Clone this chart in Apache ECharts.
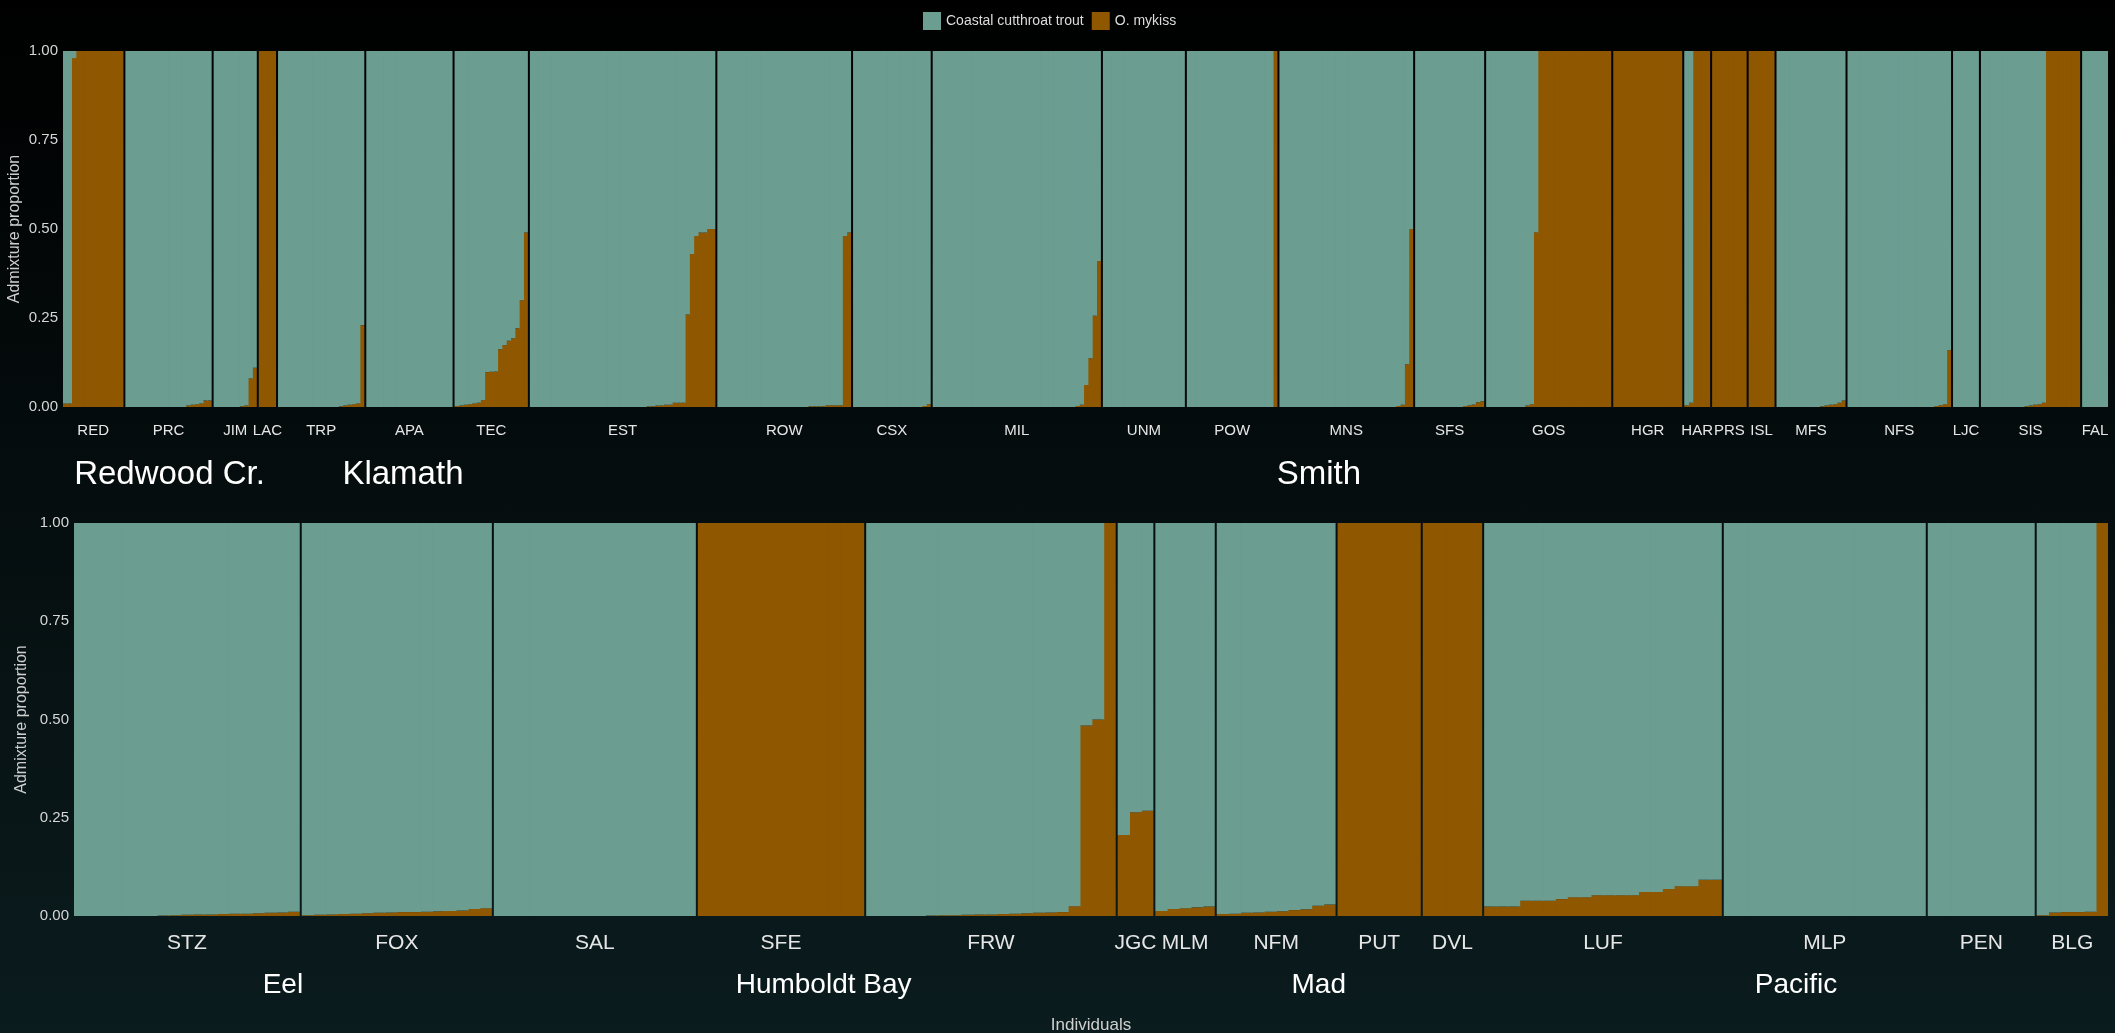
<!DOCTYPE html>
<html>
<head>
<meta charset="utf-8">
<script src="https://cdn.jsdelivr.net/npm/echarts@6/dist/echarts.min.js"></script>
<style>
  html, body { margin: 0; padding: 0; background: #000; }
  #chart { width: 2115px; height: 1033px; background: linear-gradient(#000000, #0b1c1e); }
</style>
</head>
<body>
<div id="chart"></div>
<script>
// brown (O. mykiss) share of each individual, as runs of [count, value], sorted as in the plot
const RED = [[2, 0.01], [1, 0.98], [11, 1]];
const PRC = [[14, 0], [1, 0.004], [1, 0.006], [1, 0.008], [1, 0.01], [2, 0.018]];
const JIM = [[6, 0], [1, 0.002], [1, 0.004], [1, 0.08], [1, 0.11]];
const LAC = [[4, 1]];
const TRP = [[14, 0], [1, 0.002], [1, 0.004], [1, 0.006], [1, 0.008], [1, 0.01], [1, 0.23]];
const APA = [[20, 0]];
const TEC = [[1, 0.003], [1, 0.004], [1, 0.006], [1, 0.008], [1, 0.01], [1, 0.012], [1, 0.02],
  [1, 0.098], [1, 0.099], [1, 0.1], [1, 0.162], [1, 0.174], [1, 0.186], [1, 0.193], [1, 0.221], [1, 0.3], [1, 0.49]];
const EST = [[27, 0], [2, 0.002], [2, 0.004], [2, 0.006], [3, 0.012], [1, 0.26], [1, 0.43], [1, 0.48], [2, 0.49], [2, 0.5]];
const ROW = [[21, 0], [4, 0.002], [4, 0.005], [1, 0.48], [1, 0.49]];
const CSX = [[16, 0], [1, 0.003], [1, 0.008]];
const MIL = [[33, 0], [1, 0.003], [1, 0.006], [1, 0.062], [1, 0.137], [1, 0.256], [1, 0.41]];
const UNM = [[19, 0]];
const POW = [[20, 0], [1, 1]];
const MNS = [[27, 0], [1, 0.003], [1, 0.006], [1, 0.12], [1, 0.5]];
const SFS = [[11, 0], [1, 0.003], [1, 0.005], [1, 0.007], [1, 0.013], [1, 0.016]];
const GOS = [[9, 0], [1, 0.004], [1, 0.008], [1, 0.49], [17, 1]];
const HGR = [[16, 1]];
const HAR = [[1, 0.005], [1, 0.012], [4, 1]];
const PRS = [[8, 1]];
const ISL = [[6, 1]];
const MFS = [[10, 0], [1, 0.002], [1, 0.004], [1, 0.006], [1, 0.008], [1, 0.012], [1, 0.018]];
const NFS = [[20, 0], [1, 0.003], [1, 0.005], [1, 0.008], [1, 0.16]];
const LJC = [[6, 0]];
const SIS = [[10, 0], [1, 0.002], [1, 0.004], [1, 0.006], [1, 0.008], [1, 0.012], [8, 1]];
const FAL = [[6, 0]];

const STZ = [[7, 0], [1, 0.001], [1, 0.002], [1, 0.003], [2, 0.004], [1, 0.005], [2, 0.006], [1, 0.007], [1, 0.008], [1, 0.009], [1, 0.011]];
const FOX = [[1, 0.002], [1, 0.003], [1, 0.004], [1, 0.005], [1, 0.006], [1, 0.007], [1, 0.008], [1, 0.009],
  [2, 0.01], [1, 0.011], [1, 0.012], [1, 0.013], [1, 0.014], [1, 0.018], [1, 0.02]];
const SAL = [[17, 0]];
const SFE = [[14, 1]];
const FRW = [[5, 0], [1, 0.001], [2, 0.002], [1, 0.003], [2, 0.004], [1, 0.005], [1, 0.006], [1, 0.007], [1, 0.008],
  [1, 0.009], [1, 0.01], [1, 0.025], [1, 0.485], [1, 0.5], [1, 1]];
const JGC = [[1, 0.206], [1, 0.264], [1, 0.268]];
const MLM = [[1, 0.013], [1, 0.018], [1, 0.02], [1, 0.022], [1, 0.024]];
const NFM = [[1, 0.005], [1, 0.006], [1, 0.008], [1, 0.009], [1, 0.011], [1, 0.012], [1, 0.015], [1, 0.017], [1, 0.026], [1, 0.029]];
const PUT = [[7, 1]];
const DVL = [[5, 1]];
const LUF = [[3, 0.024], [3, 0.039], [1, 0.043], [2, 0.048], [4, 0.053], [2, 0.061], [1, 0.069], [2, 0.076], [2, 0.092]];
const MLP = [[17, 0]];
const PEN = [[9, 0]];
const BLG = [[1, 0.002], [1, 0.009], [2, 0.01], [1, 0.011], [1, 1]];

const topPops = ['RED', 'PRC', 'JIM', 'LAC', 'TRP', 'APA', 'TEC', 'EST', 'ROW', 'CSX', 'MIL', 'UNM', 'POW',
  'MNS', 'SFS', 'GOS', 'HGR', 'HAR', 'PRS', 'ISL', 'MFS', 'NFS', 'LJC', 'SIS', 'FAL'];
const topData = [RED, PRC, JIM, LAC, TRP, APA, TEC, EST, ROW, CSX, MIL, UNM, POW,
  MNS, SFS, GOS, HGR, HAR, PRS, ISL, MFS, NFS, LJC, SIS, FAL];
const bottomPops = ['STZ', 'FOX', 'SAL', 'SFE', 'FRW', 'JGC', 'MLM', 'NFM', 'PUT', 'DVL', 'LUF', 'MLP', 'PEN', 'BLG'];
const bottomData = [STZ, FOX, SAL, SFE, FRW, JGC, MLM, NFM, PUT, DVL, LUF, MLP, PEN, BLG];

// regions and how many populations (left to right) each one covers
const topRegions = ['Redwood Cr.', 'Klamath', 'Smith'];
const topRegionSpan = [4, 3, 18];
const bottomRegions = ['Eel', 'Humboldt Bay', 'Mad', 'Pacific'];
const bottomRegionSpan = [2, 4, 4, 4];

const legendNames = ['Coastal cutthroat trout', 'O. mykiss'];

const TEAL = '#6c9d91';
const BROWN = '#8f5700';
const FONT = 'Liberation Sans, Arial, Helvetica, sans-serif';
const GAP = 2;

const grids = [], xAxes = [], yAxes = [], series = [], graphics = [];

function expand(runs) {
  const out = [];
  runs.forEach(function (r) { for (let k = 0; k < r[0]; k++) out.push(r[1]); });
  return out;
}

function addRow(names, data, box, st) {
  const vals = data.map(expand);
  const total = vals.reduce(function (s, a) { return s + a.length; }, 0);
  const unit = (box.right - box.left - GAP * (names.length - 1)) / total;
  // a bit wider than one slot so neighbouring bars overlap and leave no hairline seams
  const barW = unit + 0.8;
  let x = box.left;
  const spans = [];
  names.forEach(function (nm, i) {
    const w = vals[i].length * unit;
    const gi = grids.length;
    grids.push({ left: x, top: box.top, width: w, height: box.bottom - box.top, outerBoundsMode: 'none', containLabel: false });
    xAxes.push({
      type: 'category', gridIndex: gi,
      data: vals[i].map(function (_, k) { return nm + (k + 1); }),
      name: nm, nameLocation: 'middle', nameGap: st.nameGap,
      nameTextStyle: { color: '#e6e6e6', fontSize: st.popSize, fontFamily: FONT },
      axisLine: { show: false }, axisTick: { show: false }, axisLabel: { show: false }, splitLine: { show: false }
    });
    yAxes.push({
      type: 'value', gridIndex: gi, min: 0, max: 1, interval: 0.25, show: i === 0,
      name: 'Admixture proportion', nameLocation: 'middle', nameGap: st.yNameGap,
      nameTextStyle: { color: '#cfcfcf', fontSize: 16, fontFamily: FONT },
      axisLine: { show: false }, axisTick: { show: false }, splitLine: { show: false },
      axisLabel: { color: '#d6d6d6', fontSize: 15, fontFamily: FONT, margin: 5,
        formatter: function (v) { return v.toFixed(2); } }
    });
    series.push({
      type: 'bar', name: 'O. mykiss', xAxisIndex: gi, yAxisIndex: gi, stack: 'p' + gi,
      barWidth: barW, data: vals[i], itemStyle: { color: BROWN }, silent: true
    });
    series.push({
      type: 'bar', name: 'Coastal cutthroat trout', xAxisIndex: gi, yAxisIndex: gi, stack: 'p' + gi,
      barWidth: barW, data: vals[i].map(function (v) { return Math.round((1 - v) * 10000) / 10000; }),
      itemStyle: { color: TEAL }, silent: true
    });
    spans.push([x, x + w]);
    x += w + GAP;
  });
  return spans;
}

function addRegions(labels, sizes, spans, y, size) {
  let k = 0;
  labels.forEach(function (lab, i) {
    const a = spans[k][0], b = spans[k + sizes[i] - 1][1];
    k += sizes[i];
    graphics.push({
      type: 'text', x: (a + b) / 2, y: y,
      style: { text: lab, fill: '#ffffff', fontSize: size, fontFamily: FONT, align: 'center', verticalAlign: 'middle' }
    });
  });
}

const topSpans = addRow(topPops, topData, { left: 63, right: 2108, top: 51, bottom: 407 },
  { nameGap: 16, popSize: 15, yNameGap: 40 });
const bottomSpans = addRow(bottomPops, bottomData, { left: 74, right: 2108, top: 523, bottom: 916 },
  { nameGap: 17, popSize: 21, yNameGap: 44 });

addRegions(topRegions, topRegionSpan, topSpans, 475, 33);
addRegions(bottomRegions, bottomRegionSpan, bottomSpans, 985, 28);

graphics.push({
  type: 'text', x: (74 + 2108) / 2, y: 1025,
  style: { text: 'Individuals', fill: '#d0d0d0', fontSize: 17, fontFamily: FONT, align: 'center', verticalAlign: 'middle' }
});

const chart = echarts.init(document.getElementById('chart'));
chart.setOption({
  backgroundColor: 'transparent',
  animation: false,
  legend: {
    data: legendNames, top: 7, left: 918, itemWidth: 18, itemHeight: 18, itemGap: 8, icon: 'rect',
    textStyle: { color: '#dcdcdc', fontSize: 14, fontFamily: FONT }
  },
  grid: grids,
  xAxis: xAxes,
  yAxis: yAxes,
  series: series,
  graphic: graphics
});
</script>
</body>
</html>
